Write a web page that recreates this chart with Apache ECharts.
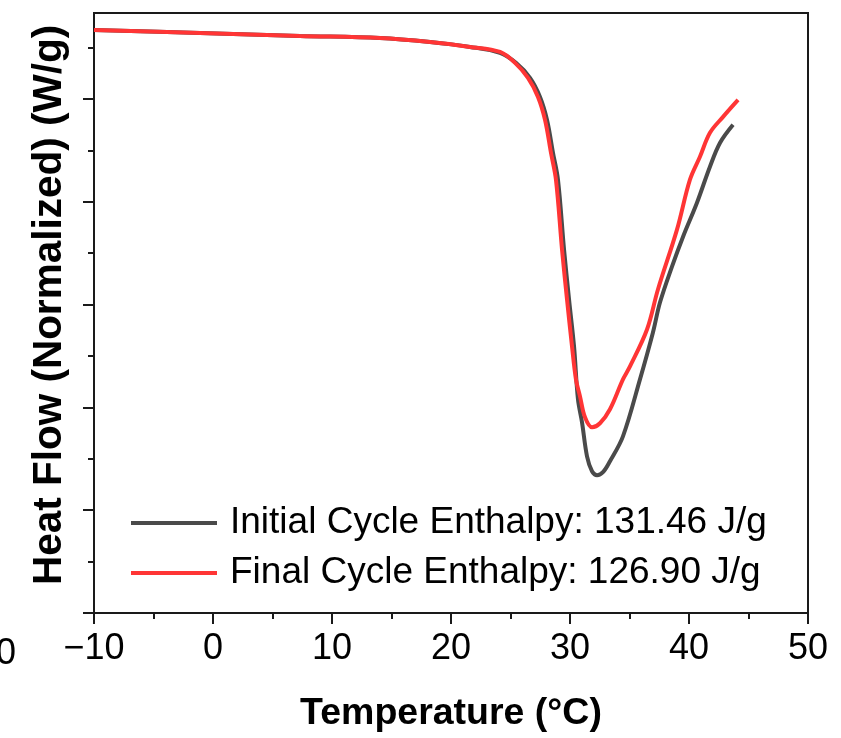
<!DOCTYPE html>
<html>
<head>
<meta charset="utf-8">
<script src="https://cdn.jsdelivr.net/npm/echarts@6/dist/echarts.min.js"></script>
<style>html,body{margin:0;padding:0;background:#fff}#c{width:841px;height:738px}</style>
</head>
<body>
<div id="c"></div>
<script>
// Temperature (°C) and normalized heat flow (arbitrary units)
const initialT = [-10, -1.09, 7.31, 14.03, 18.24, 21.60, 24.12, 25.46, 26.64, 27.48, 28.07, 28.57, 28.99, 29.50, 29.92, 30.34, 30.67, 31.01, 31.43, 31.85, 32.27, 32.77, 33.36, 34.45, 35.88, 36.97, 37.56, 38.57, 39.50, 40.67, 41.76, 42.61, 43.70];
const initialHF = [5.670, 5.641, 5.612, 5.592, 5.553, 5.505, 5.447, 5.350, 5.204, 5.019, 4.796, 4.476, 4.214, 3.534, 3.049, 2.592, 2.078, 1.854, 1.524, 1.379, 1.340, 1.369, 1.476, 1.718, 2.272, 2.728, 3.019, 3.369, 3.660, 3.990, 4.340, 4.573, 4.748];
const finalT = [-10, -1.09, 7.31, 14.03, 18.24, 21.60, 24.12, 25.38, 26.47, 27.31, 27.90, 28.40, 28.82, 29.33, 29.75, 30.17, 30.50, 30.84, 31.26, 31.85, 32.52, 33.36, 34.45, 35.04, 36.47, 37.39, 38.99, 40.08, 40.92, 41.76, 42.86, 44.12];
const finalHF = [5.670, 5.641, 5.612, 5.592, 5.553, 5.505, 5.456, 5.350, 5.204, 5.019, 4.796, 4.476, 4.214, 3.534, 3.049, 2.592, 2.272, 2.107, 1.903, 1.806, 1.845, 1.981, 2.272, 2.398, 2.757, 3.146, 3.728, 4.214, 4.437, 4.670, 4.825, 4.990];
const seriesNames = ['Initial Cycle Enthalpy: 131.46 J/g', 'Final Cycle Enthalpy: 126.90 J/g'];
const xTicks = [-10, 0, 10, 20, 30, 40, 50];
const yMajorTicks = [0, 1, 2, 3, 4, 5];
const yMinorTicks = [0.5, 1.5, 2.5, 3.5, 4.5, 5.5];

const zip = (a, b) => a.map((v, i) => [v, b[i]]);
const chart = echarts.init(document.getElementById('c'));
const FONT = '"Liberation Sans", Arial, sans-serif';
const AX = '#1a1a1a';
chart.setOption({
  animation: false,
  backgroundColor: '#fff',
  textStyle: { fontFamily: FONT },
  grid: { left: 94, right: 33, top: 13, bottom: 124, show: true, borderColor: AX, borderWidth: 2, backgroundColor: 'transparent' },
  legend: {
    orient: 'vertical', left: 126, top: 498,
    itemWidth: 86, itemHeight: 4, itemGap: 10,
    textStyle: { fontSize: 37, lineHeight: 40, color: '#000', fontFamily: FONT, padding: [0, 0, 0, 8] },
    data: seriesNames.map(n => ({ name: n, icon: 'rect' }))
  },
  xAxis: {
    type: 'value', min: xTicks[0], max: xTicks[xTicks.length - 1], interval: 10,
    name: 'Temperature (°C)', nameLocation: 'middle', nameGap: 82,
    nameTextStyle: { fontSize: 37.5, fontWeight: 'bold', color: '#000', fontFamily: FONT },
    axisLine: { onZero: false, lineStyle: { color: AX, width: 2 } },
    axisTick: { inside: false, length: 11, lineStyle: { color: AX, width: 2 } },
    minorTick: { show: true, splitNumber: 2, length: 6, lineStyle: { color: AX, width: 2 } },
    axisLabel: { fontSize: 36, color: '#000', margin: 18, fontFamily: FONT, formatter: v => String(v).replace('-', '\u2212') },
    splitLine: { show: false }
  },
  yAxis: [{
    type: 'value', min: 0, max: 5.835, position: 'left',
    name: 'Heat Flow (Normalized) (W/g)', nameLocation: 'middle', nameGap: 24,
    nameTextStyle: { fontSize: 40.5, fontWeight: 'bold', color: '#000', fontFamily: FONT, padding: [0, 0, 0, 16] },
    axisLine: { show: true, onZero: false, lineStyle: { color: AX, width: 2 } },
    axisTick: { show: true, inside: false, length: 11, customValues: yMajorTicks, lineStyle: { color: AX, width: 2 } },
    axisLabel: { show: false },
    splitLine: { show: false }
  }, {
    type: 'value', min: 0, max: 5.835, position: 'left', offset: 0,
    axisLine: { show: false, onZero: false },
    axisTick: { show: true, inside: false, length: 6, customValues: yMinorTicks, lineStyle: { color: AX, width: 2 } },
    axisLabel: { show: false },
    splitLine: { show: false }
  }],
  graphic: [{
    type: 'text', left: -4, top: 636,
    style: { text: '0', fontSize: 36, fill: '#000', fontFamily: FONT }
  }],
  series: [{
    name: seriesNames[0], type: 'line', data: zip(initialT, initialHF),
    showSymbol: false, symbol: 'none', smooth: 0.35,
    lineStyle: { color: '#4a4a4a', width: 4 }, itemStyle: { color: '#4a4a4a' }
  }, {
    name: seriesNames[1], type: 'line', data: zip(finalT, finalHF),
    showSymbol: false, symbol: 'none', smooth: 0.35,
    lineStyle: { color: '#ff3535', width: 4 }, itemStyle: { color: '#ff3535' }
  }]
});
</script>
</body>
</html>
